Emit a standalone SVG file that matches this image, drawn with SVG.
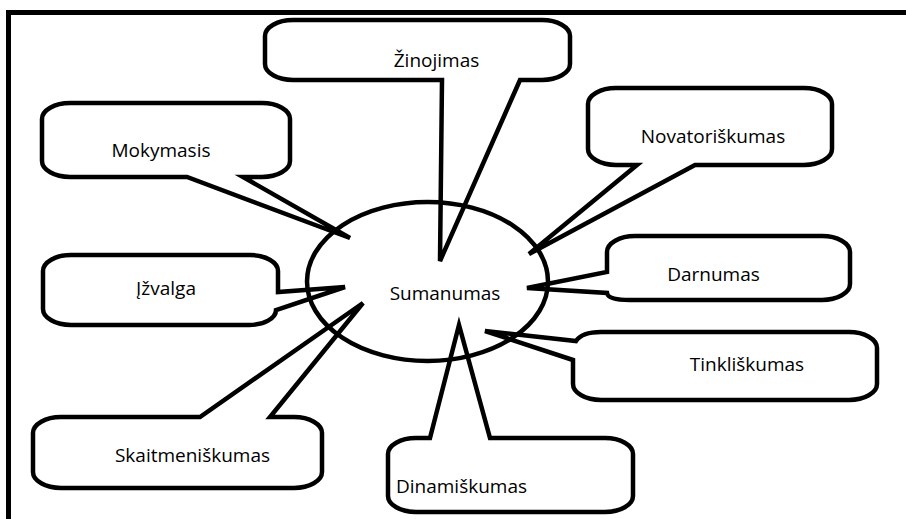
<svg xmlns="http://www.w3.org/2000/svg" width="906" height="519" viewBox="0 0 906 519">
<style>
.co{fill:#fff;stroke:#000;stroke-width:4.5;stroke-linejoin:miter;stroke-miterlimit:4}
.el{fill:none;stroke:#000;stroke-width:4.5}
.t{font-family:"Open Sans","Liberation Sans",sans-serif;font-size:19px;fill:#000;text-anchor:middle}
</style>
<rect x="0" y="0" width="906" height="519" fill="#fff"/>
<rect x="8.5" y="12.5" width="910" height="520" fill="none" stroke="#000" stroke-width="5"/>
<g id="zinojimas">
<path class="co" d="M293,20 H542 A28,16 0 0 1 570,36 V64 A28,16 0 0 1 542,80 H520 L440,261 L442,80 H293 A28,16 0 0 1 265,64 V36 A28,16 0 0 1 293,20 Z"/>
<text class="t" x="436.5" y="67">Žinojimas</text>
</g>
<g id="mokymasis">
<path class="co" d="M70,103 H262 A28,16 0 0 1 290,119 V161 A28,16 0 0 1 262,177 H243 L350,238 L187,177 H70 A28,16 0 0 1 42,161 V119 A28,16 0 0 1 70,103 Z"/>
<text class="t" x="161" y="157">Mokymasis</text>
</g>
<g id="novatoriskumas">
<path class="co" d="M616,88 H804 A28,16 0 0 1 832,104 V149 A28,16 0 0 1 804,165 H695 L529,254 L637,165 H616 A28,16 0 0 1 588,149 V104 A28,16 0 0 1 616,88 Z"/>
<text class="t" x="713" y="143">Novatoriškumas</text>
</g>
<g id="darnumas">
<path class="co" d="M635,236 H822 A28,16 0 0 1 850,252 V284 A28,16 0 0 1 822,300 H630 Q608,300 607,293 L527,288 L607,272 V252 A28,16 0 0 1 635,236 Z"/>
<text class="t" x="713.5" y="281">Darnumas</text>
</g>
<g id="tinkliskumas">
<path class="co" d="M601,332 H849 A28,16 0 0 1 877,348 V384 A28,16 0 0 1 849,400 H601 A28,16 0 0 1 573,384 V360 L485,331 L576,341 Q582,332 601,332 Z"/>
<text class="t" x="747" y="371">Tinkliškumas</text>
</g>
<g id="izvalga">
<path class="co" d="M71,255 H250 A28,16 0 0 1 278,271 V292 L345,287 L276,310 V310 A27,15 0 0 1 249,325 H71 A28,16 0 0 1 43,309 V271 A28,16 0 0 1 71,255 Z"/>
<text class="t" x="166" y="295">Įžvalga</text>
</g>
<g id="skaitmeniskumas">
<path class="co" d="M61,417 H200 L363,303 L270,417 H294 A28,16 0 0 1 322,433 V472 A28,16 0 0 1 294,488 H61 A28,16 0 0 1 33,472 V433 A28,16 0 0 1 61,417 Z"/>
<text class="t" x="192.5" y="462">Skaitmeniškumas</text>
</g>
<g id="dinamiskumas">
<path class="co" d="M416,438 H430 L459,325 L490,438 H605 A28,16 0 0 1 633,454 V496 A28,16 0 0 1 605,512 H416 A28,16 0 0 1 388,496 V454 A28,16 0 0 1 416,438 Z"/>
<text class="t" x="461.5" y="493">Dinamiškumas</text>
</g>
<g id="sumanumas">
<ellipse class="el" cx="427.5" cy="281.5" rx="120.5" ry="79.5"/>
<text class="t" x="445" y="300">Sumanumas</text>
</g>
</svg>
